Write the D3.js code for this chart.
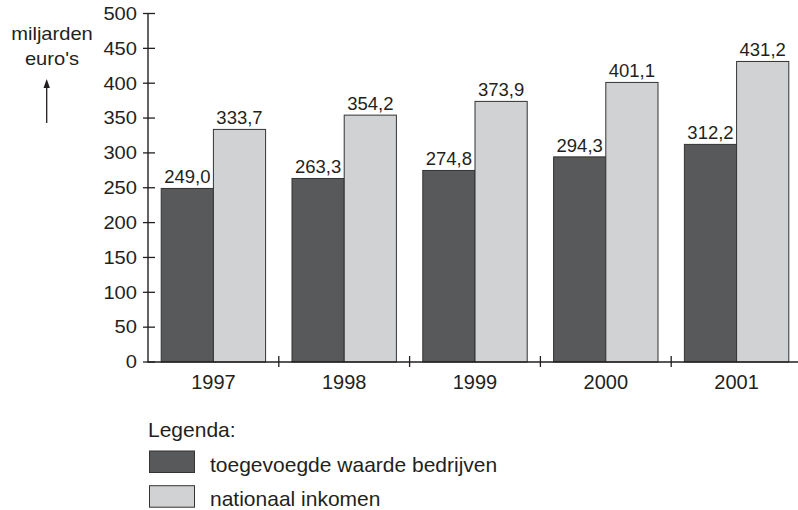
<!DOCTYPE html>
<html><head><meta charset="utf-8">
<script src="https://cdn.jsdelivr.net/npm/d3@7/dist/d3.min.js"></script>
<style>body{margin:0;background:#fff}svg{display:block}text{font-family:"Liberation Sans",Arial,sans-serif;fill:#231f20}</style>
</head><body>
<script>
const years = ["1997","1998","1999","2000","2001"];
const toegevoegd = [249.0, 263.3, 274.8, 294.3, 312.2];
const nationaal = [333.7, 354.2, 373.9, 401.1, 431.2];
const seriesNames = ["toegevoegde waarde bedrijven","nationaal inkomen"];
const yTicks = [0,50,100,150,200,250,300,350,400,450,500];

const W=798,H=510;
const svg=d3.select("body").append("svg").attr("width",W).attr("height",H);
const x=d3.scaleBand().domain(years).range([148,802]).padding(0);
const xi=d3.scaleBand().domain([0,1]).range([13.2,x.bandwidth()-13.2]).padding(0);
const y=d3.scaleLinear().domain([0,500]).range([362,13.5]);
const colors=["#58595b","#d1d2d4"];
const fmt=v=>v.toFixed(1).replace(".",",");

// bars
const data=years.map((yr,i)=>({yr,vals:[toegevoegd[i],nationaal[i]]}));
const g=svg.selectAll("g.grp").data(data).join("g").attr("transform",d=>`translate(${x(d.yr)},0)`);
g.selectAll("rect").data(d=>d.vals.map((v,k)=>({v,k}))).join("rect")
  .attr("x",d=>xi(d.k)).attr("width",xi.bandwidth())
  .attr("y",d=>y(d.v)).attr("height",d=>y(0)-y(d.v))
  .attr("fill",d=>colors[d.k]).attr("stroke","#333").attr("stroke-width",1);
g.selectAll("text.val").data(d=>d.vals.map((v,k)=>({v,k}))).join("text").attr("class","val")
  .attr("x",d=>xi(d.k)+xi.bandwidth()/2).attr("y",d=>y(d.v)-5)
  .attr("text-anchor","middle").attr("font-size",18.5).text(d=>fmt(d.v));

// y axis
svg.append("line").attr("x1",148).attr("x2",148).attr("y1",y(0)).attr("y2",y(500)).attr("stroke","#231f20").attr("stroke-width",1.4);
yTicks.forEach(t=>{
  svg.append("line").attr("x1",143).attr("x2",155).attr("y1",y(t)).attr("y2",y(t)).attr("stroke","#231f20").attr("stroke-width",1.3);
  svg.append("text").attr("transform",`translate(137,${y(t)+6.3}) scale(1.15,1)`).attr("text-anchor","end").attr("font-size",17.5).text(t);
});
// x axis
svg.append("line").attr("x1",147.3).attr("x2",W).attr("y1",y(0)).attr("y2",y(0)).attr("stroke","#231f20").attr("stroke-width",1.4);
years.slice(1).forEach(yr=>{
  svg.append("line").attr("x1",x(yr)).attr("x2",x(yr)).attr("y1",y(0)-6).attr("y2",y(0)+5).attr("stroke","#231f20").attr("stroke-width",1.3);
});
years.forEach(yr=>{
  svg.append("text").attr("x",x(yr)+x.bandwidth()/2).attr("y",388.5).attr("text-anchor","middle").attr("font-size",20).text(yr);
});

// axis title
svg.append("text").attr("transform","translate(52,40) scale(1.15,1)").attr("text-anchor","middle").attr("font-size",17.5).text("miljarden");
svg.append("text").attr("transform","translate(52,65) scale(1.15,1)").attr("text-anchor","middle").attr("font-size",17.5).text("euro's");
svg.append("line").attr("x1",46.7).attr("x2",46.7).attr("y1",123).attr("y2",86).attr("stroke","#231f20").attr("stroke-width",1.3);
svg.append("path").attr("d","M46.7,79 L43.5,88 L49.9,88 Z").attr("fill","#231f20");

// legend
svg.append("text").attr("x",148).attr("y",437).attr("font-size",21).text("Legenda:");
seriesNames.forEach((n,k)=>{
  const yy=451+k*34.7;
  svg.append("rect").attr("x",149.5).attr("y",yy).attr("width",45).attr("height",21.5).attr("fill",colors[k]).attr("stroke","#333").attr("stroke-width",1);
  svg.append("text").attr("x",210).attr("y",yy+12.5+0.7).attr("dy","0.35em").attr("font-size",21).text(n);
});
</script>
</body></html>
